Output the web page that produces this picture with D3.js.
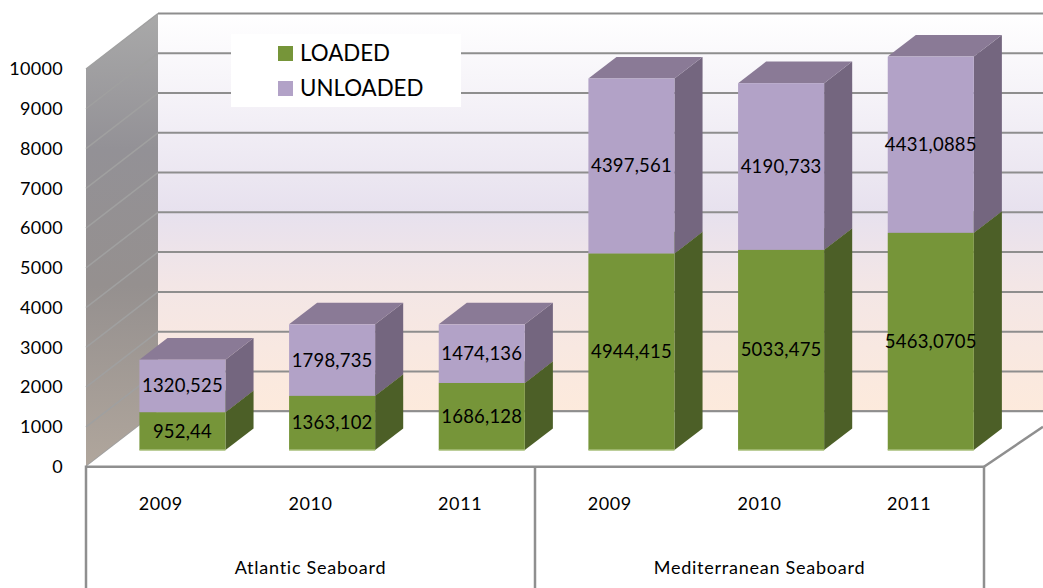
<!doctype html>
<html lang="en">
<head>
<meta charset="UTF-8">
<title>Loaded and unloaded by seaboard</title>
<style>
    html, body { margin: 0; padding: 0; background: #fff; }
    svg { display: block; }
    text { font-family: Lato, "Open Sans", sans-serif; fill: #000; }
    .y.axis path, .y.axis line { display: none; }
    .y.axis text { font-size: 18px; letter-spacing: 0.3px; }
    .grid { stroke: #8e8e8e; stroke-width: 2; fill: none; }
    .sideGrid { stroke: #a0a0a0; stroke-width: 1.5; fill: none; }
    .edge { stroke: #8f8f8f; stroke-width: 2.5; fill: none; }
    .year { font-size: 18px; letter-spacing: 0.6px; text-anchor: middle; }
    .group { font-size: 18px; letter-spacing: 0.75px; text-anchor: middle; }
    .value { font-size: 18.5px; letter-spacing: 0.2px; text-anchor: middle; }
    .legend { font-size: 22.3px; }
</style>
</head>
<body>
<svg class="chart"></svg>
<script src="https://d3js.org/d3.v7.min.js"></script>
<script>
    var groups = ["Atlantic Seaboard", "Mediterranean Seaboard"];
    var years = ["2009", "2010", "2011", "2009", "2010", "2011"];
    var loaded = [952.44, 1363.102, 1686.128, 4944.415, 5033.475, 5463.0705];
    var unloaded = [1320.525, 1798.735, 1474.136, 4397.561, 4190.733, 4431.0885];
    var loadedLabels = ["952,44", "1363,102", "1686,128", "4944,415", "5033,475", "5463,0705"];
    var unloadedLabels = ["1320,525", "1798,735", "1474,136", "4397,561", "4190,733", "4431,0885"];
    var yTicks = [0, 1000, 2000, 3000, 4000, 5000, 6000, 7000, 8000, 9000, 10000];

    var totalWidth = 1043, totalHeight = 588;
    var plot = {left: 86, right: 984, top: 69, bottom: 466.7};
    var backDx = 72, backDy = -55.5;     // offset from the front of the box to the back wall
    var barFront = 0.3, barBack = 0.69; // bar position inside the depth

    var x = d3.scaleBand().domain(d3.range(years.length)).range([plot.left, plot.right]);
    var y = d3.scaleLinear().domain([0, 10000]).range([plot.bottom, plot.top]);
    var barWidth = x.bandwidth() * 0.575;

    var svg = d3.select(".chart").attr("width", totalWidth).attr("height", totalHeight);
    var defs = svg.append("defs");

    function gradient(id, x2, y2, stops) {
        var g = defs.append("linearGradient").attr("id", id)
            .attr("x1", 0).attr("y1", 0).attr("x2", x2).attr("y2", y2);
        stops.forEach(function(s) {
            g.append("stop").attr("offset", s[0]).attr("stop-color", s[1]);
        });
    }
    gradient("wall", 0, 1, [[0, "#ffffff"], [0.5, "#e7e1ee"], [0.68, "#f3e6e6"], [1, "#fdeadc"]]);
    gradient("side", 0, 1, [[0, "#a9a9a9"], [0.3, "#939196"], [0.6, "#95908f"], [1, "#b0a69c"]]);

    var line = d3.line();

    // project a point at depth d (0 front, 1 back)
    function px(xv, d) { return xv + backDx * d; }
    function py(v, d) { return y(v) + backDy * d; }

    // back wall
    svg.append("rect")
        .attr("x", px(plot.left, 1)).attr("y", py(10000, 1))
        .attr("width", totalWidth - px(plot.left, 1))
        .attr("height", y(0) - y(10000))
        .attr("fill", "url(#wall)");

    // side wall
    svg.append("path")
        .attr("d", line([[px(plot.left, 0), py(10000, 0)], [px(plot.left, 1), py(10000, 1)],
                         [px(plot.left, 1), py(0, 1)], [px(plot.left, 0), py(0, 0)]]) + "Z")
        .attr("fill", "url(#side)");

    // grid lines
    svg.append("g").selectAll("line").data(yTicks).enter().append("line")
        .attr("class", "grid")
        .attr("x1", px(plot.left, 1)).attr("x2", totalWidth)
        .attr("y1", function(d) { return py(d, 1); })
        .attr("y2", function(d) { return py(d, 1); });

    svg.append("g").selectAll("path").data(yTicks).enter().append("path")
        .attr("class", "sideGrid")
        .attr("d", function(d) {
            return line([[px(plot.left, 0), py(d, 0)], [px(plot.left, 1), py(d, 1)]]);
        });

    // floor
    svg.append("path")
        .attr("d", line([[px(plot.left, 0), py(0, 0)], [px(plot.left, 1), py(0, 1)],
                         [totalWidth, py(0, 1)], [totalWidth, py(0, 0.72)],
                         [px(plot.right, 0), py(0, 0)]]) + "Z")
        .attr("fill", "#fff");

    svg.append("line").attr("class", "grid")
        .attr("x1", px(plot.left, 1)).attr("x2", totalWidth)
        .attr("y1", py(0, 1)).attr("y2", py(0, 1));

    // bars: front, top and side faces of one segment
    function drawBox(g, i, from, to, front, top, side) {
        var x0 = x(i) + x.bandwidth() / 2 - barWidth / 2 + backDx * barFront;
        var x1 = x0 + barWidth;
        var dx = backDx * (barBack - barFront), dy = backDy * (barBack - barFront);
        var y0 = py(from, barFront), y1 = py(to, barFront);
        g.append("path")
            .attr("d", line([[x1, y0], [x1 + dx, y0 + dy], [x1 + dx, y1 + dy], [x1, y1]]) + "Z")
            .attr("fill", side);
        g.append("path")
            .attr("d", line([[x0, y1], [x0 + dx, y1 + dy], [x1 + dx, y1 + dy], [x1, y1]]) + "Z")
            .attr("fill", top);
        g.append("rect")
            .attr("x", x0).attr("y", y1)
            .attr("width", barWidth).attr("height", y0 - y1)
            .attr("fill", front);
    }

    var bars = svg.append("g");
    years.forEach(function(yr, i) {
        var g = bars.append("g");
        drawBox(g, i, 0, loaded[i], "#769539", "#5f7a2e", "#4c5f27");
        drawBox(g, i, loaded[i], loaded[i] + unloaded[i], "#b2a2c7", "#8a7a96", "#74667f");
        // pale edge along the foot of the bar
        var x0 = x(i) + x.bandwidth() / 2 - barWidth / 2 + backDx * barFront;
        g.append("line")
            .attr("x1", x0).attr("x2", x0 + barWidth)
            .attr("y1", py(0, barFront)).attr("y2", py(0, barFront))
            .attr("stroke", "#a9bf7a").attr("stroke-width", 1.5);
    });

    // value labels
    var labels = svg.append("g");
    years.forEach(function(yr, i) {
        var cx = x(i) + x.bandwidth() / 2 + backDx * barFront;
        labels.append("text").attr("class", "value")
            .attr("x", cx).attr("y", py(loaded[i] / 2, barFront)).attr("dy", "0.35em")
            .text(loadedLabels[i]);
        labels.append("text").attr("class", "value")
            .attr("x", cx).attr("y", py(loaded[i] + unloaded[i] / 2, barFront)).attr("dy", "0.35em")
            .text(unloadedLabels[i]);
    });

    // box edges
    svg.append("path").attr("class", "edge")
        .attr("d", line([[plot.left, totalHeight], [plot.left, plot.bottom], [plot.right, plot.bottom], [plot.right, totalHeight]]));
    svg.append("path").attr("class", "edge")
        .attr("d", line([[x(3), plot.bottom], [x(3), totalHeight]]));
    svg.append("path").attr("class", "edge")
        .attr("d", line([[plot.right, plot.bottom], [totalWidth, py(0, 0.72)]]));

    // y axis
    svg.append("g").attr("class", "y axis")
        .attr("transform", "translate(" + plot.left + ",0)")
        .call(d3.axisLeft(y).tickValues(yTicks).tickSize(0).tickPadding(23).tickFormat(d3.format("d")));

    // category labels
    svg.append("g").selectAll("text").data(years).enter().append("text")
        .attr("class", "year")
        .attr("x", function(d, i) { return x(i) + x.bandwidth() / 2; })
        .attr("y", 510)
        .text(function(d) { return d; });

    svg.append("g").selectAll("text").data(groups).enter().append("text")
        .attr("class", "group")
        .attr("x", function(d, i) { return x(i * 3 + 1) + x.bandwidth() / 2; })
        .attr("y", 574)
        .text(function(d) { return d; });

    // legend
    var legend = svg.append("g");
    legend.append("rect").attr("x", 231).attr("y", 34).attr("width", 230).attr("height", 73).attr("fill", "#fff");
    [["LOADED", "#769539", 46], ["UNLOADED", "#b2a2c7", 81]].forEach(function(l) {
        legend.append("rect").attr("x", 278).attr("y", l[2]).attr("width", 15).attr("height", 15).attr("fill", l[1]);
        legend.append("text").attr("class", "legend").attr("x", 300).attr("y", l[2] + 14.5).text(l[0]);
    });
</script>
</body>
</html>
